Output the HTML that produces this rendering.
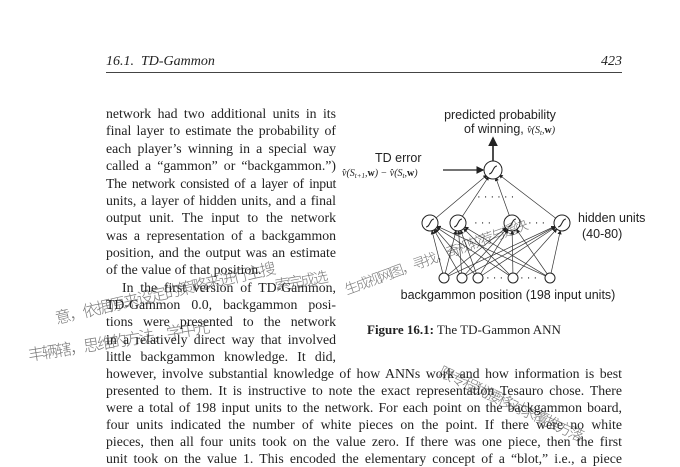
<!DOCTYPE html>
<html><head><meta charset="utf-8"><style>
body{margin:0;width:680px;height:467px;background:#fff;position:relative;overflow:hidden;font-family:"Liberation Serif",serif;color:#222}
.l{position:absolute;left:106px;font-size:13.8px;line-height:17px;white-space:nowrap;text-align:justify;text-align-last:justify}
.c{width:230px}.f{width:516px}
.hw{position:absolute;font-family:"WenQuanYi Zen Hei","Noto Sans CJK SC",sans-serif;color:#222;font-weight:200;opacity:.6;white-space:nowrap;transform-origin:left center;letter-spacing:-2px}
.fig{position:absolute;left:0;top:0}
</style></head><body>
<div style="position:absolute;left:106px;top:54px;font-style:italic;font-size:14px">16.1.&nbsp;&nbsp;TD-Gammon</div>
<div style="position:absolute;left:600px;top:54px;font-style:italic;font-size:14px;width:22px;text-align:right">423</div>
<div style="position:absolute;left:106px;top:72px;width:516px;height:1px;background:#444"></div>

<div>
<div class="l c" style="top:105px">network had two additional units in its</div>
<div class="l c" style="top:122px">final layer to estimate the probability of</div>
<div class="l c" style="top:139.5px">each player’s winning in a special way</div>
<div class="l c" style="top:157px">called a “gammon” or “backgammon.”)</div>
<div class="l c" style="top:174.5px;letter-spacing:-0.3px">The network consisted of a layer of input</div>
<div class="l c" style="top:192px">units, a layer of hidden units, and a final</div>
<div class="l c" style="top:209px">output unit. The input to the network</div>
<div class="l c" style="top:226.5px">was a representation of a backgammon</div>
<div class="l c" style="top:244px">position, and the output was an estimate</div>
<div class="l" style="top:261px;text-align-last:left">of the value of that position.</div>
<div class="l" style="top:279px;left:122px;width:214px">In the first version of TD-Gammon,</div>
<div class="l c" style="top:296px">TD-Gammon 0.0, backgammon posi-</div>
<div class="l c" style="top:313px">tions were presented to the network</div>
<div class="l c" style="top:330.5px">in a relatively direct way that involved</div>
<div class="l c" style="top:348px">little backgammon knowledge. It did,</div>
<div class="l f" style="top:365px">however, involve substantial knowledge of how ANNs work and how information is best</div>
<div class="l f" style="top:382px">presented to them. It is instructive to note the exact representation Tesauro chose. There</div>
<div class="l f" style="top:399px">were a total of 198 input units to the network. For each point on the backgammon board,</div>
<div class="l f" style="top:416px">four units indicated the number of white pieces on the point. If there were no white</div>
<div class="l f" style="top:433px">pieces, then all four units took on the value zero. If there was one piece, then the first</div>
<div class="l f" style="top:450px">unit took on the value 1. This encoded the elementary concept of a “blot,” i.e., a piece</div>
</div>

<svg class="fig" width="680" height="467">
<defs><marker id="a" markerWidth="6" markerHeight="6" refX="5" refY="3" orient="auto"><path d="M0,0L6,3L0,6z" fill="#222"/></marker></defs>
<g id="edges" stroke="#333" stroke-width="0.7" fill="none"></g>
<g id="nodes" fill="#fff" stroke="#222" stroke-width="1"></g>
<line x1="493" y1="161" x2="493" y2="138" stroke="#222" stroke-width="1.6" marker-end="url(#a)"/>
<line x1="443" y1="170" x2="483" y2="170" stroke="#222" stroke-width="1.3" marker-end="url(#a)"/>
<g font-family="Liberation Sans,sans-serif" font-size="12.5" fill="#222">
<text x="500" y="119" text-anchor="middle">predicted probability</text>
<text x="464" y="133">of winning, <tspan font-family="Liberation Serif,serif" font-size="10" font-style="italic">v̂(S<tspan font-size="7" dy="2">t</tspan><tspan dy="-2">,</tspan><tspan font-weight="bold" font-style="normal">w</tspan>)</tspan></text>
<text x="375" y="162">TD error</text>
<text x="342" y="176" font-family="Liberation Serif,serif" font-size="10" font-style="italic">v̂(S<tspan font-size="7" dy="2">t+1</tspan><tspan dy="-2">,</tspan><tspan font-weight="bold" font-style="normal">w</tspan>) − v̂(S<tspan font-size="7" dy="2">t</tspan><tspan dy="-2">,</tspan><tspan font-weight="bold" font-style="normal">w</tspan>)</text>
<text x="578" y="222">hidden units</text>
<text x="582" y="238">(40-80)</text>
<text x="508" y="299" text-anchor="middle">backgammon position (198 input units)</text>
<text x="477" y="200" font-size="11">· · ·   · · ·</text>
<text x="474" y="226" font-size="11">· · ·</text>
<text x="528" y="226" font-size="11">· · ·</text>
<text x="486" y="281" font-size="11">· · ·</text>
<text x="520" y="281" font-size="11">· · ·</text>
</g>
<text x="367" y="334" font-family="Liberation Serif,serif" font-size="13" fill="#222"><tspan font-weight="bold">Figure 16.1:</tspan> The TD-Gammon ANN</text>
</svg>

<div class="hw" style="left:55px;top:305px;font-size:16px;transform:rotate(-13deg)">意，依据原来设定的策略来进行主搜</div>
<div class="hw" style="left:275px;top:275px;font-size:15px;transform:rotate(-10deg)">索完成选</div>
<div class="hw" style="left:28px;top:342px;font-size:16px;transform:rotate(-9deg)">丰辆辖，思维的方法，学中元</div>
<div class="hw" style="left:345px;top:280px;font-size:14px;transform:rotate(-20deg)">生成视网图，寻找，奇视较荐与遥快</div>
<div class="hw" style="left:440px;top:360px;font-size:15px;transform:rotate(25deg)">限专程犹腰移对求覆推方落</div>

<script>
const hidden=[430,458,512,562], inputs=[444,462,478,513,550];
const hy=223, iy=278, ox=493, oy=170;
const E=document.getElementById('edges'), N=document.getElementById('nodes');
const ns='http://www.w3.org/2000/svg';
function ln(x1,y1,x2,y2){const l=document.createElementNS(ns,'line');l.setAttribute('x1',x1);l.setAttribute('y1',y1);l.setAttribute('x2',x2);l.setAttribute('y2',y2);l.setAttribute('marker-end','url(#a)');


E.appendChild(l);}
hidden.forEach(h=>{const d=Math.hypot(ox-h,oy-hy);ln(h+(ox-h)*8/d,hy+(oy-hy)*8/d,ox-(ox-h)*8/d,oy-(oy-hy)*8/d);});
inputs.forEach(i=>hidden.forEach(h=>{const d=Math.hypot(h-i,hy-iy);ln(i+(h-i)*5/d,iy+(hy-iy)*5/d,h-(h-i)*8/d,hy-(hy-iy)*8/d);}));
function c(x,y,r,name){const e=document.createElementNS(ns,'circle');e.setAttribute('cx',x);e.setAttribute('cy',y);e.setAttribute('r',r);


N.appendChild(e);
if(r>6){const p=document.createElementNS(ns,'path');p.setAttribute('d',`M${x-4},${y+4}C${x},${y+4} ${x},${y-4} ${x+4},${y-4}`);p.setAttribute('fill','none');N.appendChild(p);}}
c(ox,oy,9,'output-unit');
hidden.forEach(h=>c(h,hy,8,'hidden-unit'));
inputs.forEach(i=>c(i,iy,5,'input-unit'));
</script>
</body></html>
